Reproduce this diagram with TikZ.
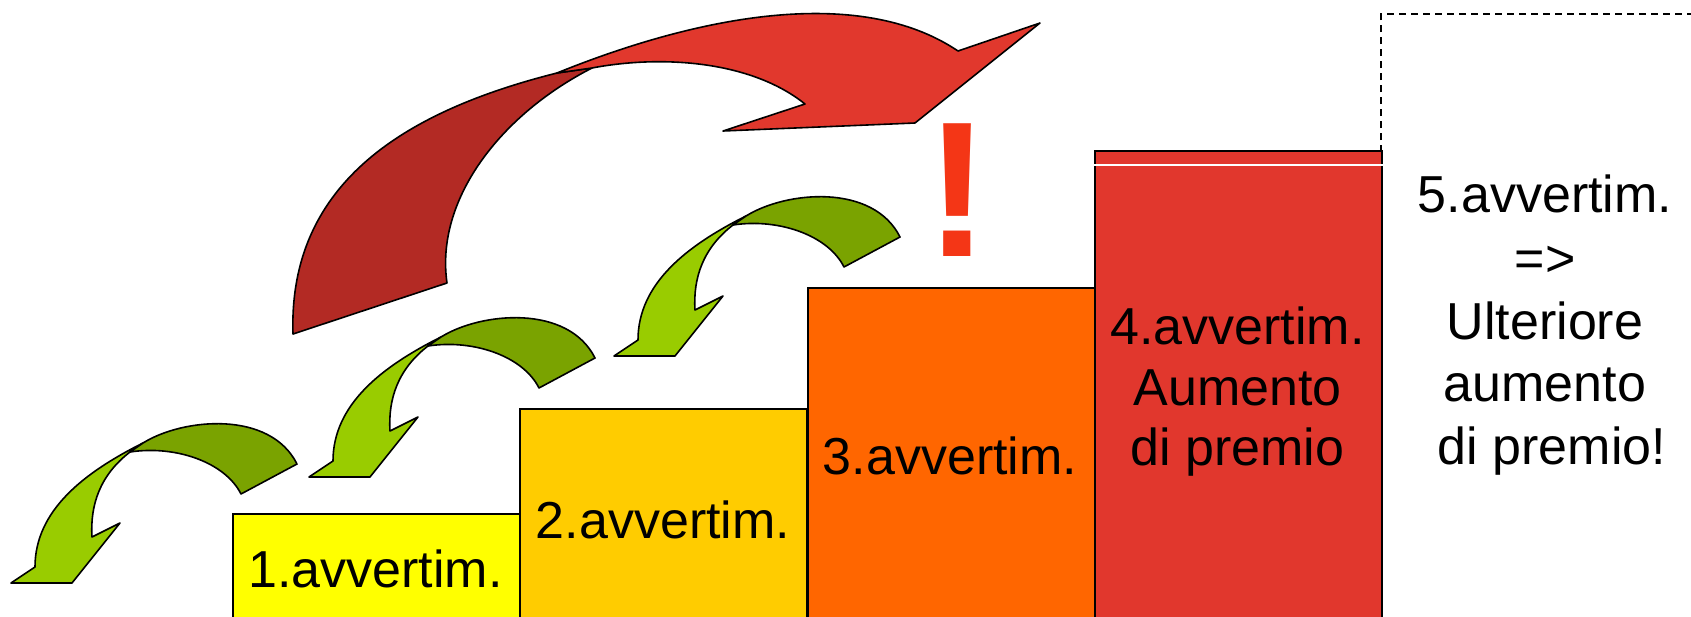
\documentclass[tikz,border=0pt]{standalone}
\usepackage{fontspec}
\setmainfont{Liberation Sans}
\definecolor{boxyellow}{RGB}{255,255,0}
\definecolor{boxgold}{RGB}{255,204,0}
\definecolor{boxorange}{RGB}{255,102,0}
\definecolor{boxred}{RGB}{225,55,45}
\definecolor{redfront}{RGB}{225,56,45}
\definecolor{redback}{RGB}{179,42,36}
\definecolor{greenfront}{RGB}{153,204,0}
\definecolor{greenback}{RGB}{122,163,0}
\definecolor{bangred}{RGB}{244,54,22}
\begin{document}
\begin{tikzpicture}[x=1pt,y=-1pt,
  stepbox/.style={draw=black,line width=2pt,minimum width=287pt,minimum height=480pt,anchor=north west,inner sep=0pt},
  lbl/.style={anchor=base,inner sep=0pt,font=\fontsize{52}{62}\selectfont},
  band/.style={draw=black,line width=1.6pt,line join=round},
  greenarrow/.pic={
    % front face of the ribbon, ending in the head
    \filldraw[band,fill=greenfront]
      (143,443) .. controls (85,472) and (35,510) .. (35,567)
      -- (11,583) -- (72,583) -- (120,523) -- (92,537)
      .. controls (90,505) and (100,475) .. (130,452)
      -- cycle;
    % back face of the ribbon
    \filldraw[band,fill=greenback]
      (143,443) .. controls (183,418) and (270,410) .. (297,464)
      -- (241,494)
      .. controls (225,462) and (175,445) .. (130,452)
      -- cycle;
  }]
\useasboundingbox (0,0) rectangle (1691,616);
\begin{scope}
\clip (0,0) rectangle (1691,616);

% dashed frame of the fifth step
\draw[dashed,dash pattern=on 7pt off 5pt,line width=1.6pt] (1381,200) |- (1720,14);

% the steps
\node[stepbox,fill=boxyellow] (s1) at (232,513) {};
\node[stepbox,fill=boxgold]   (s2) at (519,408) {};
\node[stepbox,fill=boxorange] (s3) at (807,287) {};
\node[stepbox,fill=boxred]    (s4) at (1094,150) {};
\draw[white,line width=1.5pt] (s4.north west) ++(0,15) -- ++(290,0);

% step labels
\node[lbl] (t1) at (375.5,587.5) {1.avvertim.};
\node[lbl] (t2) at (663,538) {2.avvertim.};
\node[lbl] (t3) at (950,474) {3.avvertim.};
\node[lbl] (t4a) at (1237.5,344) {4.avvertim.};
\node[lbl] (t4b) at (1237.5,405) {Aumento};
\node[lbl] (t4c) at (1237.5,465) {di premio};
\node[lbl] (t5a) at (1545,212) {5.avvertim.};
\node[lbl] (t5b) at (1545,276) {=>};
\node[lbl] (t5c) at (1545,339) {Ulteriore};
\node[lbl] (t5d) at (1545,401) {aumento};
\node[lbl] (t5e) at (1552,464) {di premio!};

% small curved arrows between the lower steps
\pic at (0,0) {greenarrow};
\pic at (298,-106) {greenarrow};
\pic at (603,-227) {greenarrow};

% big curved arrow over the steps: back face
\filldraw[band,fill=redback]
  (557,73) .. controls (410,110) and (288,180) .. (293,334)
  -- (447,283)
  .. controls (435,200) and (500,115) .. (592,68)
  -- cycle;
% front face with the head
\filldraw[band,fill=redfront]
  (557,73) .. controls (700,15) and (860,-15) .. (958,51)
  -- (1040,23) -- (915,123) -- (723,131) -- (805,104)
  .. controls (750,60) and (660,55) .. (592,68)
  -- cycle;

% warning mark
\node[anchor=base,inner sep=0pt,text=bangred,font=\fontsize{193}{193}\bfseries\selectfont] (bang) at (958,256) {!};
\end{scope}
\end{tikzpicture}
\end{document}
